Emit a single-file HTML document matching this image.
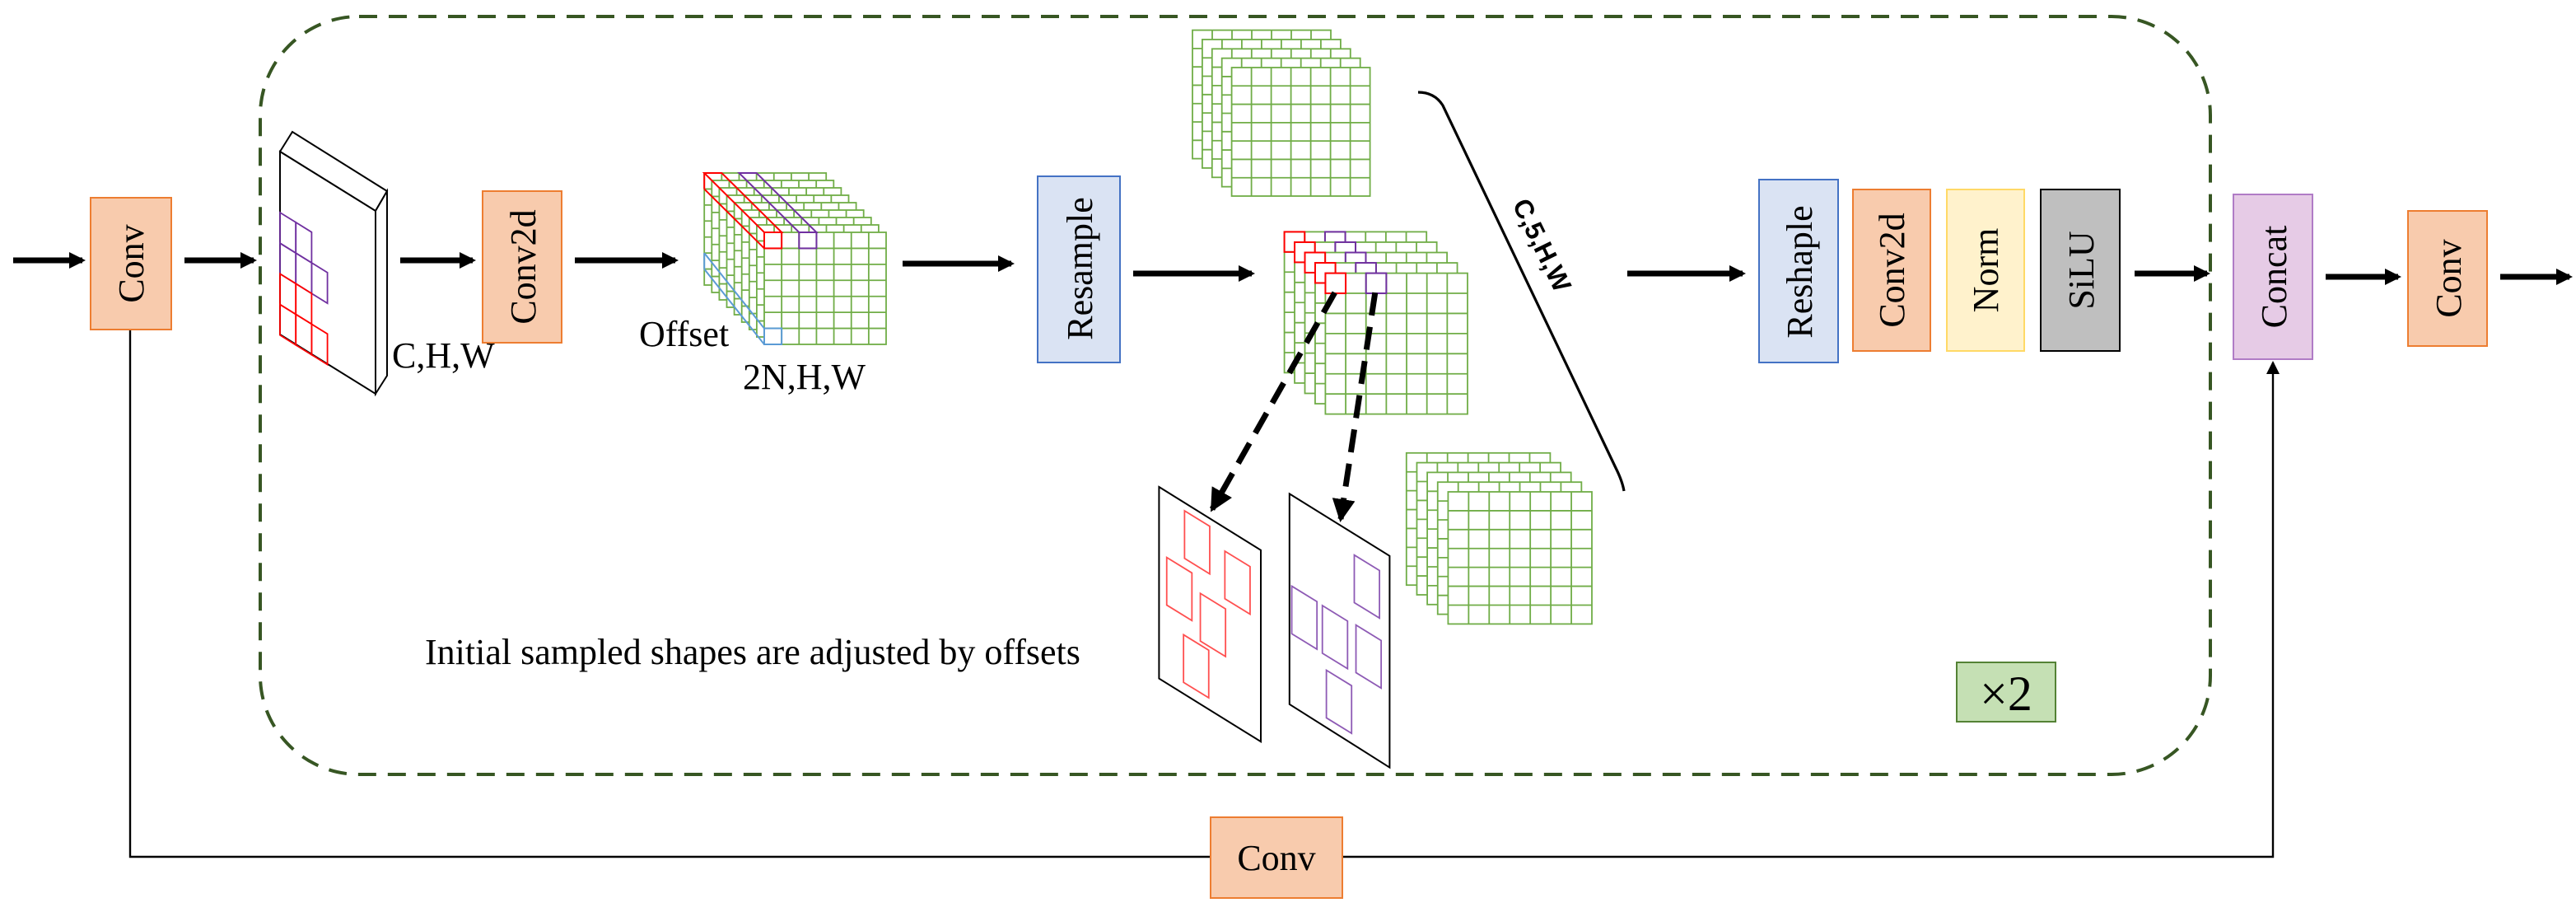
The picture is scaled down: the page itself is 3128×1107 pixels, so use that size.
<!DOCTYPE html>
<html><head><meta charset="utf-8">
<style>
html,body{margin:0;padding:0;background:#fff;}
svg{display:block;}
text{font-family:"Liberation Serif",serif;}
</style></head>
<body>
<svg id="s" width="3128" height="1107" viewBox="0 0 1564 553.5" xmlns="http://www.w3.org/2000/svg">
<defs>
<marker id="ah" markerWidth="10" markerHeight="10" refX="8" refY="5" orient="auto" markerUnits="userSpaceOnUse">
<path d="M0,0 L10,5 L0,10 Z" fill="#000"/>
</marker>
<marker id="ah2" markerWidth="14" markerHeight="14" refX="12" refY="7" orient="auto" markerUnits="userSpaceOnUse">
<path d="M0,0 L14,7 L0,14 Z" fill="#000"/>
</marker>
<marker id="ah3" markerWidth="8" markerHeight="8" refX="7" refY="4" orient="auto" markerUnits="userSpaceOnUse">
<path d="M0,0 L8,4 L0,8 Z" fill="#000"/>
</marker>
</defs>
<rect x="158" y="10" width="1184" height="460" rx="60" ry="60" fill="none" stroke="#375623" stroke-width="2" stroke-dasharray="11,7"/>

<g stroke="#000" stroke-width="3.5" fill="none">
<line x1="8" y1="158" x2="50" y2="158" marker-end="url(#ah)"/>
<line x1="112" y1="158" x2="154" y2="158" marker-end="url(#ah)"/>
<line x1="243" y1="158" x2="287" y2="158" marker-end="url(#ah)"/>
<line x1="349" y1="158" x2="410" y2="158" marker-end="url(#ah)"/>
<line x1="548" y1="160" x2="614" y2="160" marker-end="url(#ah)"/>
<line x1="688" y1="166" x2="760" y2="166" marker-end="url(#ah)"/>
<line x1="988" y1="166" x2="1058" y2="166" marker-end="url(#ah)"/>
<line x1="1296" y1="166" x2="1340" y2="166" marker-end="url(#ah)"/>
<line x1="1412" y1="168" x2="1456" y2="168" marker-end="url(#ah)"/>
<line x1="1518" y1="168" x2="1560" y2="168" marker-end="url(#ah)"/>
</g>
<polyline points="79,200 79,520 1380,520 1380,220" fill="none" stroke="#000" stroke-width="1.2" marker-end="url(#ah3)"/>

<rect x="55" y="120" width="49" height="80" fill="#f8cbad" stroke="#ed7d31" stroke-width="1"/>
<text transform="translate(87,160) rotate(-90)" text-anchor="middle" font-size="22">Conv</text>
<rect x="293" y="116" width="48" height="92" fill="#f8cbad" stroke="#ed7d31" stroke-width="1"/>
<text transform="translate(325,162) rotate(-90)" text-anchor="middle" font-size="22">Conv2d</text>
<rect x="630" y="107" width="50" height="113" fill="#dae3f3" stroke="#4472c4" stroke-width="1"/>
<text transform="translate(663,163) rotate(-90)" text-anchor="middle" font-size="22">Resample</text>
<rect x="1068" y="109" width="48" height="111" fill="#dae3f3" stroke="#4472c4" stroke-width="1"/>
<text transform="translate(1100,165) rotate(-90)" text-anchor="middle" font-size="22">Reshaple</text>
<rect x="1125" y="115" width="47" height="98" fill="#f8cbad" stroke="#ed7d31" stroke-width="1"/>
<text transform="translate(1156,164) rotate(-90)" text-anchor="middle" font-size="22">Conv2d</text>
<rect x="1182" y="115" width="47" height="98" fill="#fff2cc" stroke="#ffd966" stroke-width="1"/>
<text transform="translate(1213,164) rotate(-90)" text-anchor="middle" font-size="22">Norm</text>
<rect x="1239" y="115" width="48" height="98" fill="#bfbfbf" stroke="#000" stroke-width="1"/>
<text transform="translate(1271,164) rotate(-90)" text-anchor="middle" font-size="22">SiLU</text>
<rect x="1356" y="118" width="48" height="100" fill="#e6cbe6" stroke="#b07cc6" stroke-width="1"/>
<text transform="translate(1388,168) rotate(-90)" text-anchor="middle" font-size="22">Concat</text>
<rect x="1462" y="128" width="48" height="82" fill="#f8cbad" stroke="#ed7d31" stroke-width="1"/>
<text transform="translate(1494,169) rotate(-90)" text-anchor="middle" font-size="22">Conv</text>
<rect x="735" y="496" width="80" height="49" fill="#f8cbad" stroke="#ed7d31" stroke-width="1"/>
<text x="775" y="528" text-anchor="middle" font-size="22">Conv</text>
<rect x="1188" y="402" width="60" height="36" fill="#c5e0b4" stroke="#548235" stroke-width="1"/>
<text x="1218" y="431" text-anchor="middle" font-size="30">×2</text>

<g fill="#fff" stroke="#000" stroke-width="1">
<polygon points="170,92 177.5,80 235,116 228,128"/>
<polygon points="228,128 235,116 235,228 228,239"/>
<polygon points="170,92 228,128 228,239 170,203"/>
</g>
<g id="slabcells" fill="none" stroke-width="0.9"></g>

<text x="238" y="223" font-size="22">C,H,W</text>
<text x="388" y="210" font-size="22">Offset</text>
<text x="451" y="236" font-size="22">2N,H,W</text>
<g id="stacks"></g>

<path d="M861,56 Q871,56 876,64 L981,284 Q985,292 986,298" fill="none" stroke="#000" stroke-width="1.6"/>
<text transform="translate(918,124) rotate(64)" font-size="16" font-weight="bold" style="font-family:'Liberation Sans',sans-serif">C,5,H,W</text>

<polygon points="703.7,295.5 765.5,333.9 765.5,450.1 703.7,411.8" fill="#fff" stroke="#000" stroke-width="1"/>
<polygon points="782.9,299.7 843.7,337.4 843.7,465.8 782.9,427.4" fill="#fff" stroke="#000" stroke-width="1"/>
<g id="panelsq" fill="none" stroke-width="0.9"></g>

<g stroke="#000" stroke-width="3.5" fill="none" stroke-dasharray="14,7">
<line x1="810.4" y1="177.6" x2="736" y2="309" marker-end="url(#ah2)"/>
<line x1="834.9" y1="177.6" x2="814" y2="315" marker-end="url(#ah2)"/>
</g>

<text x="258" y="403" font-size="22">Initial sampled shapes are adjusted by offsets</text>
</svg>
<script>
var NS="http://www.w3.org/2000/svg";
function el(p,t,a){var e=document.createElementNS(NS,t);for(var k in a)e.setAttribute(k,a[k]);p.appendChild(e);return e;}
var sc=document.getElementById("slabcells");
function P(c,r){return [170+c*9.6,129+r*18.6+c*9.6*0.62];}
function cell(c,r,col){var a=P(c,r),b=P(c+1,r),d=P(c+1,r+1),e=P(c,r+1);
el(sc,"polygon",{points:[a,b,d,e].map(function(p){return p.join(",")}).join(" "),stroke:col});}
[[0,0],[1,0],[0,1],[1,1],[2,1]].forEach(function(q){cell(q[0],q[1],"#7030a0");});
[[0,2],[1,2],[0,3],[1,3],[2,3]].forEach(function(q){cell(q[0],q[1],"#ff0000");});
var st=document.getElementById("stacks");
function grid(x,y,w,h,nc,nr,hl){
 el(st,"rect",{x:x,y:y,width:w,height:h,fill:"#fff",stroke:"#70ad47","stroke-width":0.9});
 for(var i=1;i<nc;i++)el(st,"line",{x1:x+w*i/nc,y1:y,x2:x+w*i/nc,y2:y+h,stroke:"#70ad47","stroke-width":0.9});
 for(var j=1;j<nr;j++)el(st,"line",{x1:x,y1:y+h*j/nr,x2:x+w,y2:y+h*j/nr,stroke:"#70ad47","stroke-width":0.9});
 if(hl)hl.forEach(function(q){el(st,"rect",{x:x+w*q[0]/nc,y:y+h*q[1]/nr,width:w/nc,height:h/nr,fill:"none",stroke:q[2],"stroke-width":1});});
}
function stack(x0,y0,x1,y1,n,w,h,hl){
 for(var k=0;k<n;k++){var t=n==1?0:k/(n-1);grid(x0+(x1-x0)*t,y0+(y1-y0)*t,w,h,7,7,hl);}
}
stack(427.6,105,464,141,9,74,68,null);
(function(){
 var cw=74/7,ch=68/7;
 el(st,"polygon",{points:"464,141 474.6,141 438.2,105 427.6,105",fill:"none",stroke:"#ff0000","stroke-width":1});
 el(st,"line",{x1:427.6,y1:105,x2:427.6,y2:114.7,stroke:"#ff0000","stroke-width":1});
 el(st,"line",{x1:427.6,y1:114.7,x2:464,y2:150.7,stroke:"#ff0000","stroke-width":1});
 el(st,"rect",{x:464,y:141,width:cw,height:ch,fill:"none",stroke:"#ff0000","stroke-width":1});
 el(st,"polygon",{points:(464+2*cw)+",141 "+(464+3*cw)+",141 "+(427.6+3*cw)+",105 "+(427.6+2*cw)+",105",fill:"none",stroke:"#7030a0","stroke-width":1});
 el(st,"rect",{x:464+2*cw,y:141,width:cw,height:ch,fill:"none",stroke:"#7030a0","stroke-width":1});
 el(st,"line",{x1:427.6,y1:105+5*ch,x2:427.6,y2:105+6*ch,stroke:"#5b9bd5","stroke-width":1});
 el(st,"line",{x1:427.6,y1:105+5*ch,x2:464,y2:141+6*ch,stroke:"#5b9bd5","stroke-width":1});
 el(st,"line",{x1:427.6,y1:105+6*ch,x2:464,y2:141+7*ch,stroke:"#5b9bd5","stroke-width":1});
 el(st,"rect",{x:464,y:141+6*ch,width:cw,height:ch,fill:"none",stroke:"#5b9bd5","stroke-width":1});
})();
stack(724,18.3,747.8,41,5,84,78,null);
stack(779.8,140.7,804.7,165.8,5,86.3,85.5,[[0,0,"#ff0000"],[2,0,"#7030a0"]]);
stack(853.9,274.9,879.2,298.5,5,87.3,80.2,null);
var ps=document.getElementById("panelsq");
function sq(zx,zy,col){var x=690+zx/4.9,y=10+zy/3.39;
 el(ps,"polygon",{points:x+","+y+" "+(x+15.3)+","+(y+9.4)+" "+(x+15.3)+","+(y+38.3)+" "+x+","+(y+28.9),stroke:col});}
[[143,1017],[90,1113],[263,1100],[190,1187],[140,1272]].forEach(function(q){sq(q[0],q[1],"#ff5050");});
[[648,1108],[462,1172],[553,1212],[653,1252],[565,1345]].forEach(function(q){sq(q[0],q[1],"#8e5bb5");});
</script>
</body></html>
